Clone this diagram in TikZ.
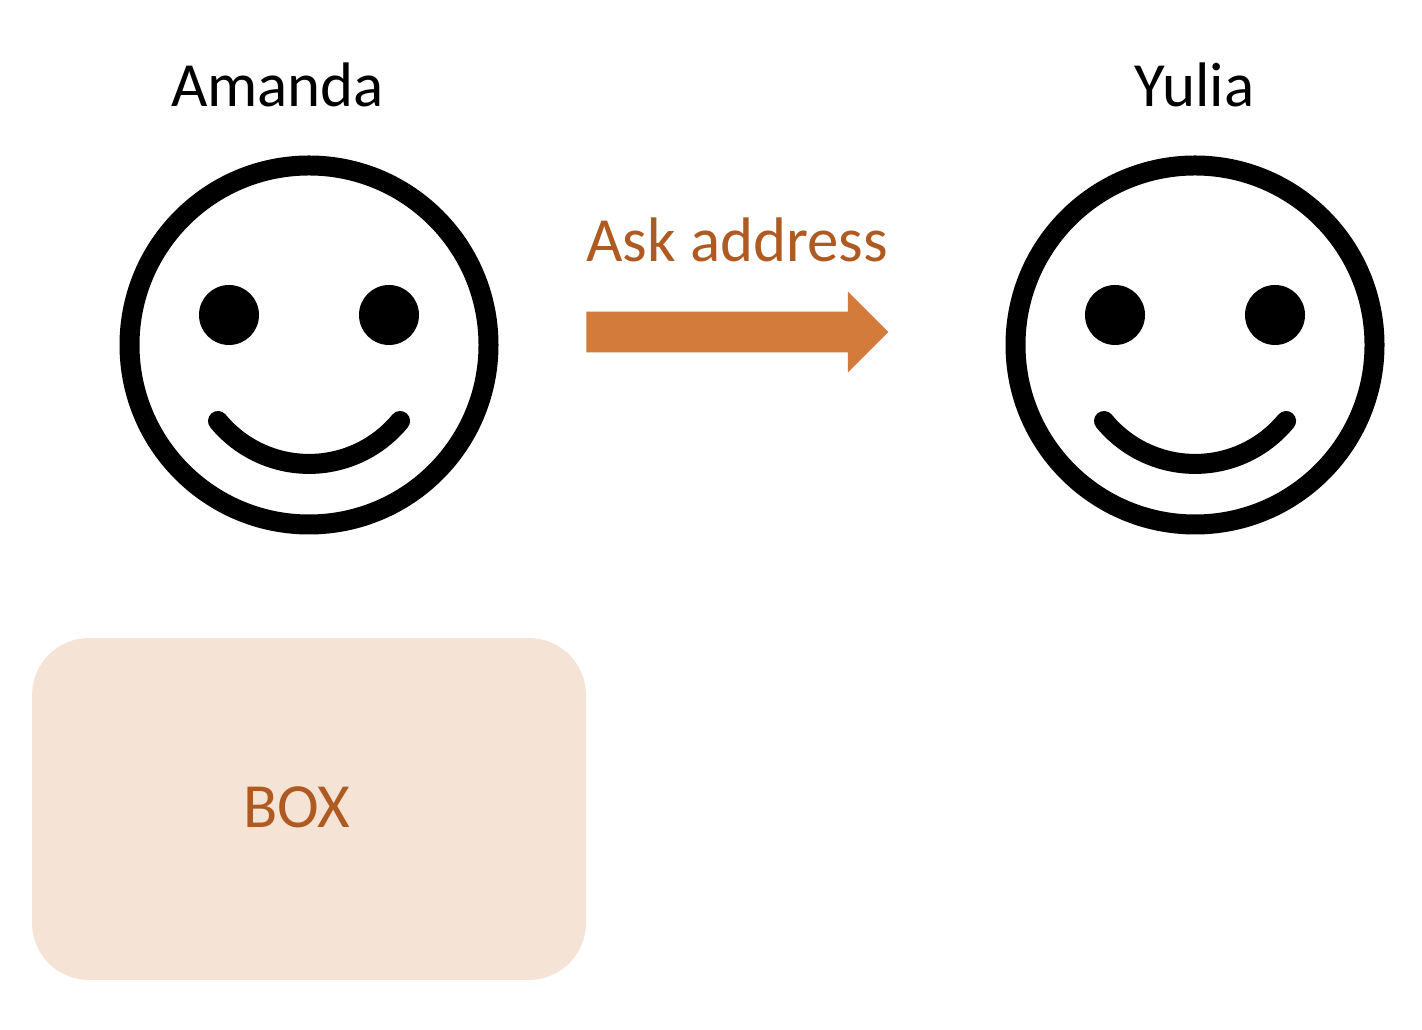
\documentclass[tikz,border=0pt]{standalone}
\usepackage{fontspec}
\setmainfont{Carlito}
\usetikzlibrary{shapes.arrows}

\definecolor{boxfill}{HTML}{F5E3D6}
\definecolor{arrowfill}{HTML}{D37B3A}
\definecolor{labeltext}{HTML}{AE5A21}

\tikzset{
  name label/.style={anchor=base,font=\fontsize{35.8}{42}\selectfont},
  face/.pic={
    \draw[line width=0.4cm] (0,0) circle [radius=179.5];
    \fill (-80,30) circle [radius=30];
    \fill (80,30) circle [radius=30];
    \draw[line width=0.4cm,line cap=round] (-91,-76) arc [start angle=219.5,end angle=320.5,radius=118];
  }
}

\begin{document}
\begin{tikzpicture}[x=0.02cm,y=0.02cm]
  \useasboundingbox (0,0) rectangle (1422,1030);
  \node[name label] (amanda) at (277.5,923) {Amanda};
  \node[name label] (yulia) at (1194.5,923) {Yulia};
  \pic (amandaface) at (309,685) {face};
  \pic (yuliaface) at (1195,685) {face};
  \node[name label,text=labeltext] (ask) at (737,768.5) {Ask address};
  \node[single arrow,anchor=tail,fill=arrowfill,inner xsep=0pt,inner ysep=0.4cm,minimum height=6.04cm,minimum width=1.6cm,
    single arrow head extend=0.4cm,single arrow head indent=0pt] (askarrow) at (586,698) {};
  \node[fill=boxfill,rounded corners=1.14cm,inner sep=0pt,minimum width=11.08cm,minimum height=6.84cm] (box) at (309,221) {};
  \node[name label,text=labeltext] (boxlabel) at (297,202) {BOX};
\end{tikzpicture}
\end{document}
